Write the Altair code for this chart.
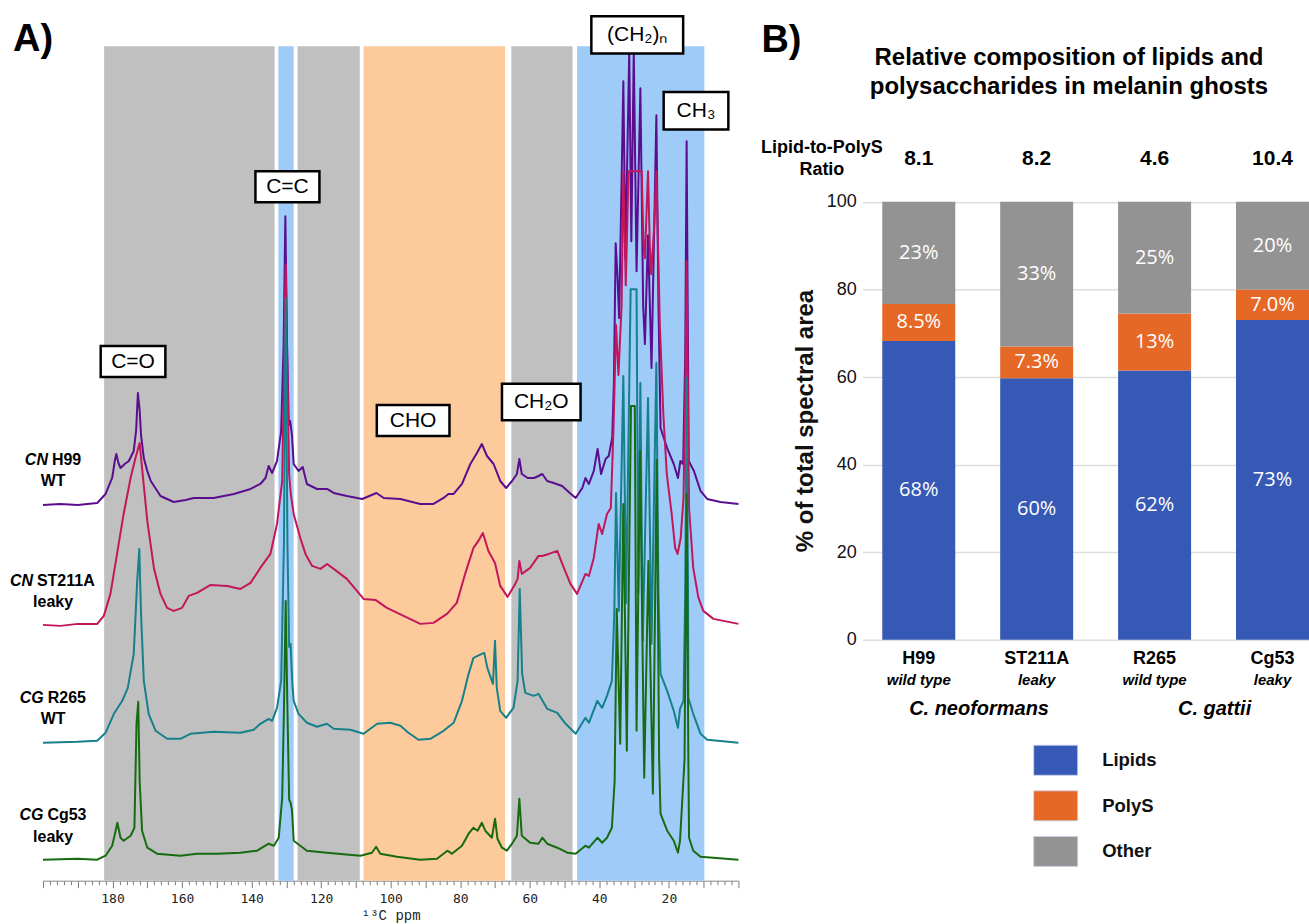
import altair as alt
import pandas as pd

# ------------------------------------------------------------------
# Panel A : 13C NMR spectra
# ------------------------------------------------------------------
band_start = [182.4, 132.3, 126.8, 107.8, 65.3, 46.4]
band_end = [133.4, 127.9, 108.9, 67.1, 47.7, 9.8]
band_color = ["#c0c0c0", "#9fcbf9", "#c0c0c0", "#fdca9c", "#c0c0c0", "#9fcbf9"]

H99_PPM = [200, 195, 190, 184.4, 182, 180.1, 179.3, 178.9, 178.3, 177.7, 176.5, 175.3, 173.9, 173.2, 172.7, 172.2,
           171.8, 171, 170, 169, 166.2, 162.4, 159, 156.6, 150.9, 145.1, 140.3, 137.5, 136, 135.1, 134.1, 132.7,
           131.5, 130.8, 130.3, 129.8, 129.3, 128.9, 128.4, 127.9, 126.5, 125.3, 124.1, 121.2, 118.3, 116.4, 112.6,
           108.2, 104.1, 102, 97.2, 91.5, 87.7, 84.8, 83.4, 81.9, 79.5, 77.1, 75.2, 73.8, 72.3, 70.4, 68.5, 66.8,
           65.1, 63.7, 63.0, 62.3, 60.6, 58.8, 57.5, 56.4, 55, 53.1, 50.7, 48.5, 46.8, 44.9, 44, 43, 41.6, 40.5,
           39.5, 38.2, 37.3, 36.3, 35.8, 35.3, 34.8, 34.3, 33.1, 32.5, 31.4, 30.8, 30.1, 29.3, 28.2, 27.4, 26.9,
           26.0, 25.0, 23.6, 23.0, 22.4, 20.5, 18.6, 17.4, 16.7, 15.9, 15.3, 14.9, 14.5, 14.3, 12.8, 10.9, 9, 5.2, 0]
H99_INT = [0, 1, 0, 2, 11, 27, 45, 51, 42, 37, 41, 44, 54, 75, 112, 95,
           70, 47, 34, 24, 9, 3, 5, 7, 7, 11, 16, 21, 27, 39, 32, 44,
           74, 160, 289, 160, 80, 84, 70, 41, 34, 38, 21, 16, 16, 12, 9,
           6, 12, 7, 6, 1, 1, 7, 11, 11, 21, 41, 52, 61, 49, 41, 24, 17,
           24, 31, 46, 31, 27, 27, 29, 31, 24, 22, 19, 12, 7, 17, 27, 21, 34, 56,
           31, 46, 49, 67, 124, 262, 230, 187, 424, 247, 454, 264, 454, 234, 417, 200, 161,
           270, 137, 390, 200, 77, 57, 41, 27, 44, 41, 150, 364, 150, 44, 34, 14, 6, 3, 1]

ST_PPM = [200, 195, 190, 184.4, 182.5, 180.6, 178.7, 176.8, 174.8, 173.4, 172.2, 171.5, 170, 168.1, 166.2, 164.3,
          162.4, 160, 158.1, 155.7, 151.8, 147, 143.2, 140.3, 137.5, 134.6, 132.7, 131.2, 130.7, 130.2, 129.7,
          129.2, 128.7, 127.9, 126, 124.5, 122.6, 120.2, 118.3, 116.4, 112.6, 110.2, 107.8, 104.4, 101.1, 96.3,
          91.5, 87.7, 83.8, 81, 78.6, 76.2, 74.8, 73.5, 71.9, 70, 68.5, 66.4, 64.2, 63.5, 63, 62.3, 59.9, 57.5,
          56.5, 54.5, 52.1, 50.2, 48.3, 46.4, 44, 43, 41.6, 40.2, 39.2, 37.8, 36.7, 35.9, 35.2, 34.5, 33.6, 33.1,
          32.4, 31.6, 30.5, 29.5, 28.6, 27.8, 27.3, 26.9, 26.0, 25.5, 25.1, 24.2, 23.6, 22.6, 21.6, 20.6, 19.2,
          18.2, 17.5, 16.6, 15.8, 15.2, 14.9, 14.6, 14.2, 13, 11.5, 10.1, 7.2, 0]
ST_INT = [0, -1, 1, 1, 9, 31, 71, 111, 147, 167, 182, 157, 104, 57, 31, 17,
          14, 17, 29, 32, 40, 39, 36, 42, 57, 71, 101, 144, 250, 361, 250,
          150, 130, 111, 87, 71, 59, 56, 61, 56, 46, 36, 26, 25, 17, 9,
          1, 2, 11, 22, 51, 77, 84, 92, 74, 62, 39, 28, 41, 46, 64, 51, 57, 69,
          69, 71, 74, 57, 41, 31, 51, 49, 67, 101, 91, 111, 117, 200, 300, 250, 320, 454,
          340, 454, 454, 454, 454, 454, 380, 367, 454, 380, 351, 400, 454, 300, 211, 151, 111,
          77, 71, 87, 127, 250, 364, 250, 117, 57, 27, 14, 6, 1]

R265_PPM = [200, 190, 184.4, 182, 179.6, 177.2, 175.6, 173.9, 172.9, 172.3, 171.8, 171, 169.6, 167.6, 164.3,
            160.5, 157.6, 150.9, 143.2, 139.4, 137.5, 135.1, 134.1, 132.7, 131.5, 130.7, 130.2, 129.7, 129.2,
            128.8, 128.3, 127.9, 126.5, 124.1, 121.2, 118.3, 116.4, 111.6, 107.8, 103.9, 100.1, 97.2, 94.9, 92,
            88.6, 84.8, 81.9, 79.5, 77.6, 76.2, 73.8, 73.1, 72.2, 70.6, 70, 69.5, 68.5, 66.8, 64.7, 63.5, 62.9,
            62.2, 61.3, 58.9, 57.5, 55, 52.1, 49.7, 46.8, 44, 43, 40.6, 39.2, 37.8, 36.4, 35.7, 35.2, 34.4, 33.1,
            32.3, 31.0, 29.3, 28.8, 28.2, 27.5, 26.0, 25.0, 23.6, 23.0, 22.4, 20.5, 18.6, 17.4, 16.8, 15.8, 15.3,
            14.9, 14.5, 14.4, 13, 10.9, 9, 0]
R265_INT = [0, 1, 2, 10, 29, 42, 55, 89, 162, 194, 129, 62, 29, 12, 4,
            4, 9, 11, 10, 13, 19, 24, 22, 35, 62, 200, 445, 200, 96,
            99, 60, 42, 29, 20, 16, 19, 14, 13, 9, 19, 20, 17, 10, 3,
            4, 12, 20, 42, 69, 85, 89, 90, 75, 59, 102, 55, 32, 25, 35, 62, 154,
            69, 50, 47, 49, 34, 30, 19, 9, 25, 20, 42, 35, 47, 62, 129, 250, 132, 367,
            140, 454, 454, 150, 360, 102, 345, 99, 380, 150, 69, 52, 32, 15, 34, 42, 150,
            365, 150, 45, 29, 9, 3, 0]

CG53_PPM = [200, 190, 184.4, 182, 180.1, 179.1, 178.6, 177.7, 176.8, 174.8, 173.7, 173.1, 172.6, 172.2, 171.5,
            170, 167.2, 160.5, 155.7, 150, 143.2, 138.4, 135.1, 133.6, 132.2, 131.2, 130.7, 130.2, 129.7, 129.2,
            128.8, 128.4, 127.9, 126, 124.1, 118.3, 108.7, 105.4, 104.2, 103, 98.2, 91.5, 86.7, 84.8, 83.7, 82.4,
            79.5, 77.6, 76.2, 75, 73.8, 72.8, 70.9, 70, 69.3, 68, 66.6, 65.1, 63.7, 63, 62.3, 59.9, 57.5, 56.4,
            55, 52.1, 49.2, 46.8, 44, 43, 40.5, 39.2, 37.8, 36.4, 35.6, 35.0, 34.0, 33.1, 32.1, 30.9, 29.8, 29.3,
            28.3, 27.1, 25.9, 24.6, 23.5, 22.8, 22.4, 20.5, 18.6, 17.4, 16.8, 15.5, 14.9, 14.4, 14.2, 13, 10.9, 0]
CG53_INT = [0, 1, 0, 4, 14, 29, 37, 22, 19, 24, 32, 136, 158, 79, 29,
            12, 6, 4, 6, 6, 7, 9, 16, 14, 22, 62, 150, 259, 150, 60,
            57, 50, 19, 14, 9, 7, 4, 7, 13, 6, 3, 0, 1, 6, 9, 6,
            14, 26, 32, 29, 37, 29, 22, 41, 21, 12, 9, 16, 24, 61, 24, 17, 16, 22,
            16, 12, 7, 6, 14, 12, 22, 17, 22, 32, 79, 251, 116, 356, 109, 454, 454, 129,
            409, 82, 299, 66, 400, 100, 46, 29, 19, 7, 19, 100, 366, 100, 22, 9, 3, 0]

trace_ppm = [H99_PPM, ST_PPM, R265_PPM, CG53_PPM]
trace_int = [H99_INT, ST_INT, R265_INT, CG53_INT]
trace_offset = [376, 256, 138, 21]
trace_color = ["#5a0e8f", "#c3165b", "#16808b", "#186b10"]

sp_genus = ["CN", "CN", "CG", "CG"]
sp_strain = ["H99", "ST211A", "R265", "Cg53"]
sp_type = ["WT", "leaky", "WT", "leaky"]
sp_anchor_ppm = [198.0, 202.3, 199.2, 199.3]
sp_line1 = [421, 300, 183, 66]
sp_line2 = [400, 279, 162, 44]
sp_center_ppm = 197.1

box_text = ["C=O", "C=C", "CHO", "CH\u2082O", "(CH\u2082)\u2099", "CH\u2083"]
box_x1 = [183.4, 138.9, 104.0, 68.0, 42.3, 21.5]
box_x2 = [164.8, 120.5, 83.1, 45.4, 15.9, 2.9]
box_y1 = [504, 679, 445, 460.7, 827.7, 751.7]
box_y2 = [535, 710, 476, 497.3, 865, 789.3]

# ------------------------------------------------------------------
# Panel B : relative composition
# ------------------------------------------------------------------
strains = ["H99", "ST211A", "R265", "Cg53"]
strain_type = ["wild type", "leaky", "wild type", "leaky"]
ratio_text = ["8.1", "8.2", "4.6", "10.4"]
parts = ["Lipids", "PolyS", "Other"]
part_colors = ["#3559b5", "#e66827", "#939393"]
lipids = [68.2, 59.7, 61.5, 73.0]
polys = [8.5, 7.3, 13.0, 7.0]
other = [23.3, 33.0, 25.5, 20.0]
lipid_lbl = ["68%", "60%", "62%", "73%"]
polys_lbl = ["8.5%", "7.3%", "13%", "7.0%"]
other_lbl = ["23%", "33%", "25%", "20%"]

# ------------------------------------------------------------------
PA_W, PA_H = 696, 835
PB_W, PB_H = 447, 594
FONT = "Liberation Sans"

scAx = alt.Scale(domain=[200, 0], nice=False, zero=False)
scAy = alt.Scale(domain=[0, PA_H], nice=False, zero=False)
axA = alt.Axis(
    values=list(range(0, 201, 2)),
    tickSize={"condition": {"test": "datum.value % 10 === 0", "value": 7}, "value": 4},
    labelExpr="(datum.value % 20 === 0 && datum.value > 0 && datum.value < 200) ? datum.label : ''",
    labelOverlap=False, labelFlush=False, grid=False,
    domainColor="#8a8a8a", tickColor="#7a7a7a", tickWidth=1,
    labelFont="DejaVu Sans Mono", labelFontSize=13, labelColor="#222222", labelPadding=5,
    title="\u00b9\u00b3C ppm", titleFont="Liberation Mono", titleFontSize=14,
    titleFontWeight="normal", titleColor="#222222", titlePadding=3,
)


def XA(field="ppm"):
    return alt.X(f"{field}:Q", scale=scAx, axis=axA)


def YA(field="inten"):
    return alt.Y(f"{field}:Q", scale=scAy, axis=None)


df_bands = pd.DataFrame({"ppm": band_start, "ppm2": band_end, "col": band_color})
bands = alt.Chart(df_bands).mark_rect(strokeWidth=0).encode(
    x=XA(), x2="ppm2:Q", y=alt.value(0), y2=alt.value(PA_H),
    fill=alt.Fill("col:N", scale=None, legend=None),
)

layersA = [bands]
for p, v, off, col in zip(trace_ppm, trace_int, trace_offset, trace_color):
    d = pd.DataFrame({"ppm": p, "inten": [h + off for h in v], "i": list(range(len(p)))})
    layersA.append(
        alt.Chart(d).mark_line(color=col, strokeWidth=2, strokeJoin="round").encode(
            x=XA(), y=YA(), order="i:Q"
        )
    )

df_box = pd.DataFrame({"ppm": box_x1, "ppm2": box_x2, "inten": box_y1, "inten2": box_y2, "t": box_text})
df_box["cx"] = (df_box["ppm"] + df_box["ppm2"]) / 2
df_box["cy"] = (df_box["inten"] + df_box["inten2"]) / 2
layersA.append(
    alt.Chart(df_box).mark_rect(fill="white", stroke="black", strokeWidth=2.5).encode(
        x=XA(), x2="ppm2:Q", y=YA(), y2="inten2:Q"
    )
)
layersA.append(
    alt.Chart(df_box).mark_text(font=FONT, fontSize=21, color="black", baseline="middle").encode(
        x=XA("cx"), y=YA("cy"), text="t:N"
    )
)

df_sp = pd.DataFrame({"ppm": sp_anchor_ppm, "inten": sp_line1, "inten2": sp_line2,
                      "g": sp_genus, "s": sp_strain, "w": sp_type})
df_sp["c"] = sp_center_ppm
layersA.append(
    alt.Chart(df_sp).mark_text(font=FONT, fontSize=16, fontWeight="bold", fontStyle="italic",
                               align="right", baseline="middle", dx=-2, color="black").encode(
        x=XA(), y=YA(), text="g:N")
)
layersA.append(
    alt.Chart(df_sp).mark_text(font=FONT, fontSize=16, fontWeight="bold",
                               align="left", baseline="middle", dx=2, color="black").encode(
        x=XA(), y=YA(), text="s:N")
)
layersA.append(
    alt.Chart(df_sp).mark_text(font=FONT, fontSize=16, fontWeight="bold",
                               align="center", baseline="middle", color="black").encode(
        x=XA("c"), y=YA("inten2"), text="w:N")
)
df_Alab = pd.DataFrame({"ppm": [208.6], "inten": [830], "t": ["A)"]})
layersA.append(
    alt.Chart(df_Alab).mark_text(font=FONT, fontSize=38, fontWeight="bold", align="left",
                                 baseline="alphabetic", color="black").encode(
        x=XA(), y=YA(), text="t:N")
)
# invisible frame that fixes the canvas to the picture size
df_frame = pd.DataFrame({"ppm": [212.07], "ppm2": [-164.08], "inten": [880], "inten2": [-44]})
layersA.append(
    alt.Chart(df_frame).mark_rule(opacity=0, strokeWidth=0).encode(
        x=XA(), x2="ppm2:Q", y=YA(), y2="inten2:Q")
)

panelA = alt.layer(*layersA).properties(width=PA_W, height=PA_H)

# ------------------------------------------------------------------
rows = []
for i, s in enumerate(strains):
    segs = [(parts[0], lipids[i], lipid_lbl[i]), (parts[1], polys[i], polys_lbl[i]),
            (parts[2], other[i], other_lbl[i])]
    start = 0.0
    for k, (pname, val, lbl) in enumerate(segs):
        rows.append({"cat": s, "part": pname, "start": start, "end": start + val,
                     "mid": start + val / 2, "lbl": lbl, "k": k})
        start += val
df_parts = pd.DataFrame(rows)
df_cat = pd.DataFrame({"cat": strains, "typ": strain_type, "ratio": ratio_text})

scBx = alt.Scale(domain=strains, paddingInner=0.381, paddingOuter=0.0845, align=1)
scBy = alt.Scale(domain=[0, 135.5], nice=False, zero=False)
axB = alt.Axis(values=[0, 20, 40, 60, 80, 100], grid=True, gridColor="#dedede", gridWidth=1.5,
               domain=False, ticks=False, tickSize=0, labelFont=FONT, labelFontSize=18,
               labelColor="#111111", labelPadding=6,
               title="% of total spectral area", titleFont=FONT, titleFontSize=24,
               titleFontWeight="bold", titleColor="#111111", titleX=-49.5, titleY=374.5,
               titleAngle=270, titleAlign="center", titleBaseline="alphabetic")

XB = alt.X("cat:N", scale=scBx, axis=None, sort=strains)

bars = alt.Chart(df_parts).mark_bar().encode(
    x=XB,
    y=alt.Y("start:Q", scale=scBy, axis=axB),
    y2="end:Q",
    color=alt.Color("part:N", scale=alt.Scale(domain=parts, range=part_colors),
                    legend=alt.Legend(title=None, orient="none", legendX=171, legendY=692,
                                      symbolType="M-1,-0.682H1V0.682H-1Z", symbolSize=1936,
                                      symbolStrokeColor="#c8d0e8", symbolStrokeWidth=0.8,
                                      symbolOpacity=1, padding=0,
                                      labelFont=FONT, labelFontSize=18.5, labelFontWeight="bold",
                                      labelColor="#111111", labelOffset=24, rowPadding=5.6)),
    order="k:Q",
)
bar_lbl = alt.Chart(df_parts).mark_text(font="Open Sans", fontSize=20, color="white",
                                        baseline="middle").encode(
    x=XB, y=alt.Y("mid:Q", scale=scBy, axis=axB), text="lbl:N")
ratio_lbl = alt.Chart(df_cat).mark_text(font=FONT, fontSize=21, fontWeight="bold", color="black",
                                        baseline="middle").encode(
    x=XB, y=alt.datum(109.7), text="ratio:N")
cat_lbl = alt.Chart(df_cat).mark_text(font=FONT, fontSize=18, fontWeight="bold", color="black",
                                      baseline="middle").encode(
    x=XB, y=alt.datum(-4.3), text="cat:N")
typ_lbl = alt.Chart(df_cat).mark_text(font=FONT, fontSize=15, fontWeight="bold", fontStyle="italic",
                                      color="black", baseline="middle").encode(
    x=XB, y=alt.datum(-9.1), text="typ:N")


def free_text(txt, px, val, size, weight="bold", style="normal", align="center", baseline="middle"):
    d = pd.DataFrame({"t": [txt]})
    return alt.Chart(d).mark_text(font=FONT, fontSize=size, fontWeight=weight, fontStyle=style,
                                  align=align, baseline=baseline, color="black").encode(
        x=alt.value(px), y=alt.datum(val), text="t:N")


layersB = [
    bars, bar_lbl, ratio_lbl, cat_lbl, typ_lbl,
    free_text("C. neoformans", 116.8, -15.7, 20, style="italic"),
    free_text("C. gattii", 352.5, -15.7, 20, style="italic"),
    free_text("Relative composition of lipids and", 206.8, 132.9, 24),
    free_text("polysaccharides in melanin ghosts", 206.8, 126.1, 24),
    free_text("Lipid-to-PolyS", -40.5, 112.2, 18),
    free_text("Ratio", -40.5, 107.2, 18),
    free_text("B)", -101, 134.3, 38, align="left", baseline="alphabetic"),
]
panelB = alt.layer(*layersB).properties(width=PB_W, height=PB_H)

chart = alt.hconcat(panelA, panelB, spacing=124, bounds="flush").resolve_scale(
    color="independent", fill="independent"
).resolve_legend(color="independent").properties(
    padding=0, autosize=alt.AutoSizeParams(type="pad"), background="white"
).configure_view(strokeWidth=0)

chart.save("out.html", embed_options={"renderer": "svg", "actions": False})
